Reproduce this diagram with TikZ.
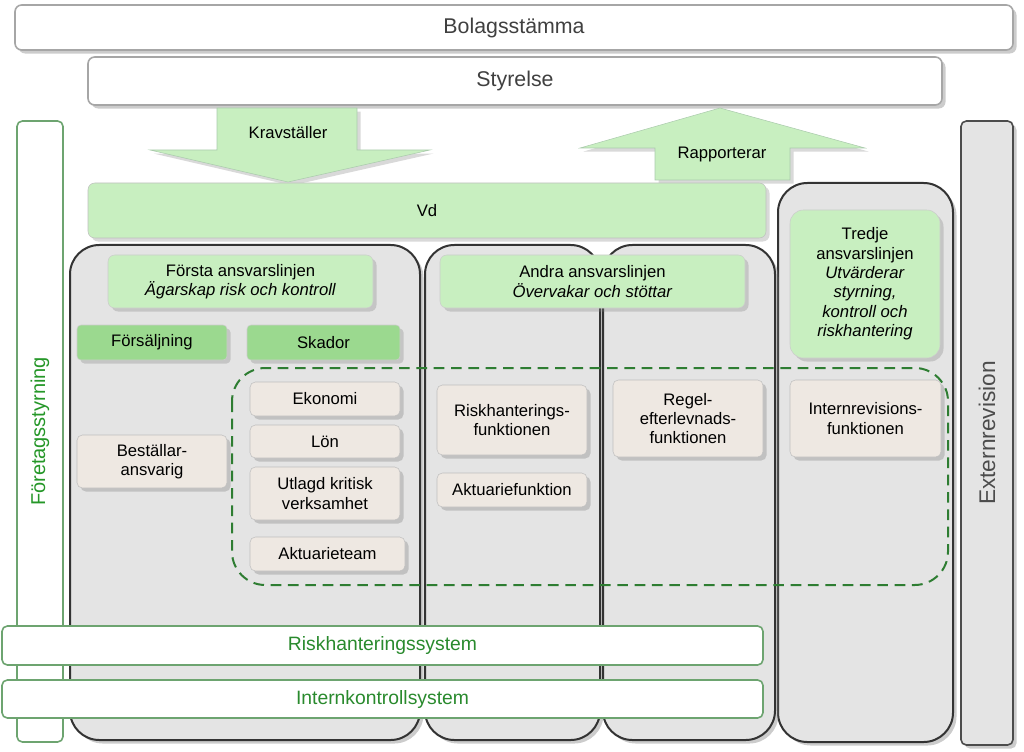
\documentclass[tikz,border=0pt]{standalone}
\usepackage{fontspec}
\setmainfont{Liberation Sans}
\usetikzlibrary{shadows}
\definecolor{lg}{HTML}{C8EFC0}
\definecolor{mg}{HTML}{9BD98F}
\definecolor{dg}{HTML}{2E7D32}
\definecolor{gb}{HTML}{E4E4E4}
\definecolor{bx}{HTML}{EEE8E2}
\begin{document}
\begin{tikzpicture}[x=0.75pt,y=-0.75pt,
 top/.style={draw=gray!70,line width=1.2pt,fill=white,rounded corners=5pt,drop shadow={opacity=0.4},font=\fontsize{16}{18}\selectfont,text=black!75},
 col/.style={draw=gray!40!black,line width=1.5pt,fill=gb,rounded corners=22pt,drop shadow={opacity=0.4}},
 gr/.style={draw=gray!40,fill=lg,rounded corners=5pt,drop shadow={opacity=0.3},align=center,font=\fontsize{12.5}{14.5}\selectfont},
 gb2/.style={draw=gray!40,fill=mg,rounded corners=3pt,drop shadow={opacity=0.3},font=\fontsize{12.5}{14.5}\selectfont},
 bx/.style={draw=gray!50,fill=bx,rounded corners=4pt,drop shadow={opacity=0.35},align=center,font=\fontsize{12.5}{14.5}\selectfont},
 sys/.style={draw=dg!70,line width=1.2pt,fill=white,rounded corners=4pt,text=dg!90!green,font=\fontsize{14.5}{16}\selectfont}]
\useasboundingbox (0,0) rectangle (1024,752);
\node[top,minimum width=998*0.75pt,minimum height=45*0.75pt] (bol) at (514,27.5) {Bolagsstämma};
\node[top,minimum width=854*0.75pt,minimum height=48*0.75pt] (sty) at (515,81) {Styrelse};
\node[draw=dg!70,line width=1.2pt,fill=white,rounded corners=4pt,minimum width=621*0.75pt,minimum height=46*0.75pt,rotate=90,text=dg!80!green,font=\fontsize{15}{17}\selectfont] (fs) at (40,431.5) {Företagsstyrning};
\node[draw=gray!60!black,line width=1.2pt,fill=gb,rounded corners=4pt,minimum width=624*0.75pt,minimum height=52*0.75pt,rotate=90,text=black!70,font=\fontsize{17}{19}\selectfont,drop shadow={opacity=0.4}] (ext) at (987,433) {Externrevision};
% arrows
\fill[lg,draw=dg!40,drop shadow={opacity=0.3}] (217,108)--(357,108)--(357,150)--(430,150)--(288,182)--(150,150)--(217,150)--cycle;
\node[font=\fontsize{12.5}{14}\selectfont] (kr) at (288,133) {Kravställer};
\fill[lg,draw=dg!40,drop shadow={opacity=0.3}] (655,180)--(790,180)--(790,148)--(865,148)--(720,108)--(580,148)--(655,148)--cycle;
\node[font=\fontsize{12.5}{14}\selectfont] (ra) at (722,154) {Rapporterar};
% columns
\node[col,minimum width=175*0.75pt,minimum height=559*0.75pt] (c4) at (865.5,462.5) {};
\node[col,minimum width=350*0.75pt,minimum height=495*0.75pt] (c1) at (245,492.5) {};
\node[col,minimum width=175*0.75pt,minimum height=495*0.75pt] (c2) at (512.5,492.5) {};
\node[col,minimum width=172*0.75pt,minimum height=495*0.75pt] (c3) at (689,492.5) {};
\node[gr,minimum width=678*0.75pt,minimum height=55*0.75pt,draw=gray!50] (vd) at (427,210.5) {Vd};
\node[gr,minimum width=265*0.75pt,minimum height=53*0.75pt] (f1) at (240.5,281.5) {Första ansvarslinjen\\\textit{Ägarskap risk och kontroll}};
\node[gr,minimum width=305*0.75pt,minimum height=53*0.75pt] (f2) at (592.5,281.5) {Andra ansvarslinjen\\\textit{Övervakar och stöttar}};
\node[gr,minimum width=150*0.75pt,minimum height=148*0.75pt,rounded corners=10pt] (f3) at (865,284) {Tredje\\ansvarslinjen\\\textit{Utvärderar}\\\textit{styrning,}\\\textit{kontroll och}\\\textit{riskhantering}};
\node[gb2,minimum width=150*0.75pt,minimum height=35*0.75pt] (fo) at (152,342.5) {Försäljning};
\node[gb2,minimum width=153*0.75pt,minimum height=35*0.75pt] (sk) at (323.5,342.5) {Skador};
\draw[dg,line width=1.5pt,dash pattern=on 8pt off 5pt,rounded corners=25pt] (232,368) rectangle (948,585);
\node[bx,minimum width=150*0.75pt,minimum height=34*0.75pt] (ek) at (325,399) {Ekonomi};
\node[bx,minimum width=150*0.75pt,minimum height=33*0.75pt] (lo) at (325,441.5) {Lön};
\node[bx,minimum width=150*0.75pt,minimum height=53*0.75pt] (ut) at (325,493.5) {Utlagd kritisk\\verksamhet};
\node[bx,minimum width=155*0.75pt,minimum height=34*0.75pt] (ak) at (327.5,554) {Aktuarieteam};
\node[bx,minimum width=150*0.75pt,minimum height=53*0.75pt] (be) at (152,461.5) {Beställar-\\ansvarig};
\node[bx,minimum width=150*0.75pt,minimum height=70*0.75pt] (rh) at (512,420) {Riskhanterings-\\funktionen};
\node[bx,minimum width=150*0.75pt,minimum height=34*0.75pt] (af) at (512,490) {Aktuariefunktion};
\node[bx,minimum width=150*0.75pt,minimum height=77*0.75pt] (re) at (688,418.5) {Regel-\\efterlevnads-\\funktionen};
\node[bx,minimum width=151*0.75pt,minimum height=77*0.75pt] (ir) at (865.5,418.5) {Internrevisions-\\funktionen};
\node[sys,minimum width=761*0.75pt,minimum height=39*0.75pt] (rs) at (382.5,645.5) {Riskhanteringssystem};
\node[sys,minimum width=761*0.75pt,minimum height=38*0.75pt] (is) at (382.5,699) {Internkontrollsystem};
\end{tikzpicture}
\end{document}
